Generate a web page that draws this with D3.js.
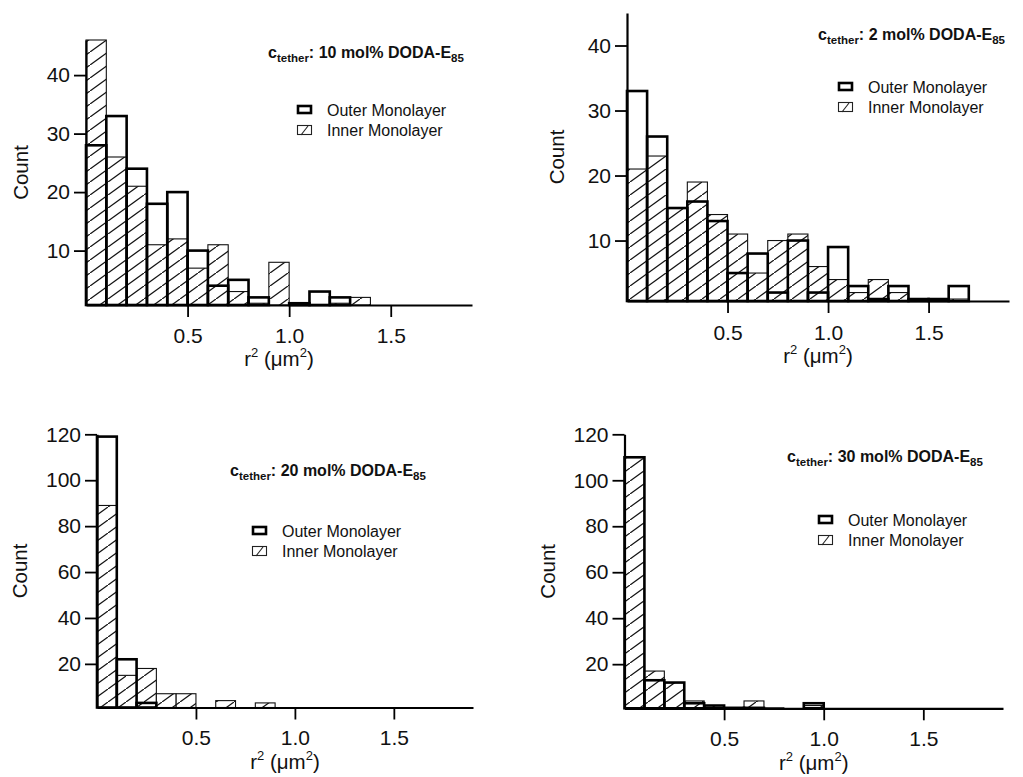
<!DOCTYPE html>
<html>
<head>
<meta charset="utf-8">
<script src="https://cdn.jsdelivr.net/npm/d3@7/dist/d3.min.js"></script>
<style>
  html, body { margin: 0; padding: 0; background: #fff; }
  svg { display: block; }
  text { font-family: "Liberation Sans", Arial, Helvetica, sans-serif; fill: #111; }
</style>
</head>
<body>
<svg id="chart" width="1023" height="777"></svg>
<script>
// ---------------- DATA ----------------
const binWidth = 0.1;
const xTicks = [0.5, 1.0, 1.5];
const xTickLabels = ["0.5", "1.0", "1.5"];
const yTicksLow = [10, 20, 30, 40];
const yTicksHigh = [20, 40, 60, 80, 100, 120];
const seriesNames = ["Outer Monolayer", "Inner Monolayer"];
const concentrations = ["10", "2", "20", "30"];

// counts per bin (bins start at 0, 0.1, 0.2, ...)
const outer10 = [28, 33, 24, 18, 20, 10, 4, 5, 2, 0, 1, 3, 2, 0];
const inner10 = [46, 26, 21, 11, 12, 7, 11, 3, 1, 8, 0, 0, 1, 2];

const outer2 = [33, 26, 15, 16, 13, 5, 8, 2, 10, 2, 9, 3, 1, 3, 1, 1, 3];
const inner2 = [21, 23, 15, 19, 14, 11, 5, 10, 11, 6, 4, 2, 4, 2, 0, 1, 1];

const outer20 = [119, 22, 3, 0, 0, 1, 1, 0, 1, 1];
const inner20 = [89, 15, 18, 7, 7, 0, 4, 0, 3, 0];

const outer30 = [110, 13, 12, 3, 2, 1, 1, 0, 0, 3];
const inner30 = [110, 17, 12, 4, 2, 1, 4, 1, 0, 2];

// ---------------- LAYOUT ----------------
const panels = [
  { conc: concentrations[0], outer: outer10, inner: inner10, yTicks: yTicksLow,
    xr: [86, 472], yr: [305, 40], yd: [0.7, 46],
    titleX: 268, titleY: 58, legX: 297, legY: 116, countX: 21, xLabY: 366, tickLabY: 343 },
  { conc: concentrations[1], outer: outer2, inner: inner2, yTicks: yTicksLow,
    xr: [627, 1009], yr: [301, 13], yd: [0.7, 45],
    titleX: 818, titleY: 40, legX: 838, legY: 93, countX: 557, xLabY: 363, tickLabY: 340 },
  { conc: concentrations[2], outer: outer20, inner: inner20, yTicks: yTicksHigh,
    xr: [97, 473], yr: [707.5, 434.3], yd: [1, 120],
    titleX: 230, titleY: 476, legX: 252, legY: 537, countX: 20, xLabY: 769, tickLabY: 745 },
  { conc: concentrations[3], outer: outer30, inner: inner30, yTicks: yTicksHigh,
    xr: [624.5, 1003], yr: [708.3, 434.3], yd: [0.8, 120],
    titleX: 787, titleY: 462, legX: 818, legY: 526, countX: 548, xLabY: 770, tickLabY: 746 }
];

const svg = d3.select("#chart");
const defs = svg.append("defs");
const pat = defs.append("pattern")
  .attr("id", "hatch").attr("patternUnits", "userSpaceOnUse")
  .attr("width", 18).attr("height", 13);
pat.append("rect").attr("width", 18).attr("height", 13).attr("fill", "#fff");
pat.append("path").attr("d", "M-2,14.44 L20,-1.44").attr("stroke", "#111").attr("stroke-width", 1.25);

panels.forEach(p => {
  const g = svg.append("g");
  const x = d3.scaleLinear().domain([0, 1.9]).range(p.xr);
  const y = d3.scaleLinear().domain(p.yd).range(p.yr);
  const base = y(p.yd[0]);

  const innerData = p.inner.map((v, i) => ({ x0: i * binWidth, v })).filter(d => d.v > 0);
  const outerData = p.outer.map((v, i) => ({ x0: i * binWidth, v })).filter(d => d.v > 0);

  // inner (hatched) bars
  g.append("g").selectAll("rect").data(innerData).join("rect")
    .attr("x", d => x(d.x0))
    .attr("width", d => x(d.x0 + binWidth) - x(d.x0))
    .attr("y", d => y(d.v))
    .attr("height", d => base - y(d.v))
    .attr("fill", "url(#hatch)")
    .attr("stroke", "#111").attr("stroke-width", 1.1);

  // outer (thick outline) bars
  g.append("g").selectAll("rect").data(outerData).join("rect")
    .attr("x", d => x(d.x0))
    .attr("width", d => x(d.x0 + binWidth) - x(d.x0))
    .attr("y", d => y(d.v))
    .attr("height", d => base - y(d.v))
    .attr("fill", "none")
    .attr("stroke", "#000").attr("stroke-width", 2.6);

  // axes
  const yAxis = d3.axisLeft(y).tickValues(p.yTicks).tickSize(12).tickSizeOuter(0).tickPadding(4);
  const ya = g.append("g").attr("transform", `translate(${p.xr[0]},0)`).call(yAxis);
  const xAxis = d3.axisBottom(x).tickValues(xTicks).tickFormat((d, i) => xTickLabels[i])
    .tickSize(12).tickSizeOuter(0).tickPadding(6);
  const xa = g.append("g").attr("transform", `translate(0,${base})`).call(xAxis);
  [ya, xa].forEach(a => {
    a.select(".domain").attr("stroke", "#000").attr("stroke-width", 2.2);
    a.selectAll(".tick line").attr("stroke", "#000").attr("stroke-width", 1.8);
    a.selectAll(".tick text").attr("font-size", 21).attr("fill", "#111")
      .attr("font-family", "Liberation Sans, Arial, sans-serif");
  });
  xa.selectAll(".tick text").attr("dy", null).attr("y", null)
    .attr("transform", `translate(0,${p.tickLabY - base})`);

  // axis titles
  g.append("text")
    .attr("transform", `translate(${p.countX},${(p.yr[0] + p.yr[1]) / 2}) rotate(-90)`)
    .attr("text-anchor", "middle").attr("dy", "0.35em")
    .attr("font-size", 20.5).text("Count");

  const xl = g.append("text")
    .attr("x", (p.xr[0] + p.xr[1]) / 2).attr("y", p.xLabY)
    .attr("text-anchor", "middle").attr("font-size", 20.5);
  xl.append("tspan").text("r");
  xl.append("tspan").attr("font-size", 13).attr("dy", -9).text("2");
  xl.append("tspan").attr("font-size", 20.5).attr("dy", 9).text(" (\u03bcm");
  xl.append("tspan").attr("font-size", 13).attr("dy", -9).text("2");
  xl.append("tspan").attr("font-size", 20.5).attr("dy", 9).text(")");

  // title
  const t = g.append("text").attr("x", p.titleX).attr("y", p.titleY)
    .attr("font-size", 16).attr("font-weight", "bold");
  t.append("tspan").text("c");
  t.append("tspan").attr("font-size", 11.5).attr("dy", 4).text("tether");
  t.append("tspan").attr("font-size", 16).attr("dy", -4).text(`: ${p.conc} mol% DODA-E`);
  t.append("tspan").attr("font-size", 11.5).attr("dy", 4).text("85");

  // legend
  const lg = g.append("g");
  lg.append("rect").attr("x", p.legX + 1).attr("y", p.legY - 10).attr("width", 13).attr("height", 7)
    .attr("fill", "none").attr("stroke", "#000").attr("stroke-width", 2.6);
  lg.append("rect").attr("x", p.legX + 0.5).attr("y", p.legY + 20 - 10.5).attr("width", 14).attr("height", 9)
    .attr("fill", "#fff").attr("stroke", "#222").attr("stroke-width", 1.1);
  lg.append("line").attr("x1", p.legX + 4).attr("y1", p.legY + 19).attr("x2", p.legX + 11).attr("y2", p.legY + 10)
    .attr("stroke", "#222").attr("stroke-width", 1.1);
  seriesNames.forEach((n, i) => {
    lg.append("text").attr("x", p.legX + 30).attr("y", p.legY + i * 20)
      .attr("font-size", 16).text(n);
  });
});
</script>
</body>
</html>
